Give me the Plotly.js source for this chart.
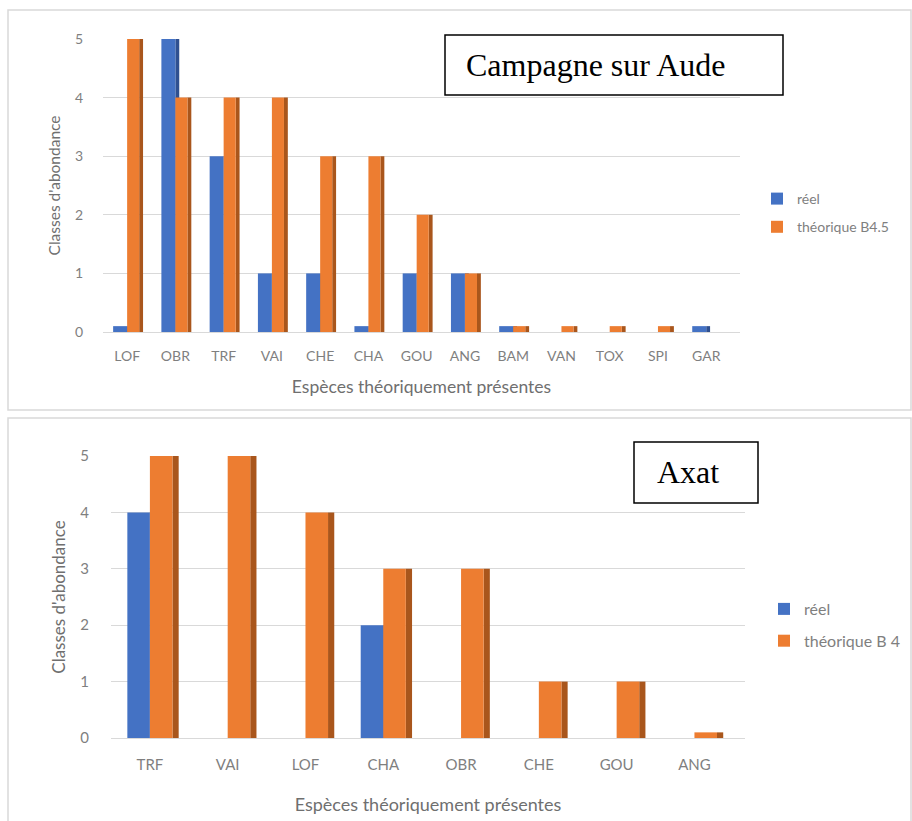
<!DOCTYPE html>
<html>
<head>
<meta charset="utf-8">
<script src="https://cdn.plot.ly/plotly-3.0.1.min.js"></script>
<style>
html,body{margin:0;padding:0;background:#fff;}
#chart{width:912px;height:821px;}
</style>
</head>
<body>
<div id="chart"></div>
<script>
// ---- Data ----
const categoriesTop = ["LOF","OBR","TRF","VAI","CHE","CHA","GOU","ANG","BAM","VAN","TOX","SPI","GAR"];
const reelTop       = [0.1, 5, 3, 1, 1, 0.1, 1, 1, 0.1, 0, 0, 0, 0.1];
const theoTop       = [5, 4, 4, 4, 3, 3, 2, 1, 0.1, 0.1, 0.1, 0.1, 0];
const nameReelTop = "réel";
const nameTheoTop = "théorique B4.5";
const titleTop = "Campagne sur Aude";

const categoriesBottom = ["TRF","VAI","LOF","CHA","OBR","CHE","GOU","ANG"];
const reelBottom       = [4, 0, 0, 2, 0, 0, 0, 0];
const theoBottom       = [5, 5, 4, 3, 3, 1, 1, 0.1];
const nameReelBottom = "réel";
const nameTheoBottom = "théorique B 4";
const titleBottom = "Axat";

const yTickVals = [0,1,2,3,4,5];
const yTitle = "Classes d'abondance";
const xTitle = "Espèces théoriquement présentes";

// ---- Styling ----
const W = 912, H = 821;
const px = v => v / W;
const py = v => 1 - v / H;
const BLUE = "#4472c4", BLUE_D = "#2f5090";
const ORANGE = "#ed7d31", ORANGE_D = "#a9561c";
const FONT = "Lato, 'Open Sans', sans-serif";
const TICKC = "#7f7f7f";

function barSet(cats, reel, theo, nR, nT, xa, ya, lg, geo) {
  return [
    {type:"bar", x:cats, y:reel, xaxis:xa, yaxis:ya, offset:0, width:geo.side,
     marker:{color:BLUE_D}, showlegend:false, hoverinfo:"skip", legend:lg, legendgroup:lg+"a"},
    {type:"bar", x:cats, y:reel, xaxis:xa, yaxis:ya, offset:-geo.blue, width:geo.blue,
     marker:{color:BLUE}, name:nR, legend:lg, legendgroup:lg+"a"},
    {type:"bar", x:cats, y:theo, xaxis:xa, yaxis:ya, offset:geo.orange, width:geo.side,
     marker:{color:ORANGE_D}, showlegend:false, hoverinfo:"skip", legend:lg, legendgroup:lg+"b"},
    {type:"bar", x:cats, y:theo, xaxis:xa, yaxis:ya, offset:0, width:geo.orange,
     marker:{color:ORANGE}, name:nT, legend:lg, legendgroup:lg+"b"}
  ];
}

const data = [].concat(
  barSet(categoriesTop, reelTop, theoTop, nameReelTop, nameTheoTop, "x", "y", "legend",
         {blue:0.29, orange:0.25, side:0.08}),
  barSet(categoriesBottom, reelBottom, theoBottom, nameReelBottom, nameTheoBottom, "x2", "y2", "legend2",
         {blue:0.29, orange:0.29, side:0.08})
);

function xAxis(domain, range, anchor, standoff, ticklen, fs, tfs) {
  return {domain:domain, anchor:anchor, type:"category", range:range, showgrid:false,
    showline:false, zeroline:false, ticks:"outside", ticklen:ticklen, tickcolor:"rgba(0,0,0,0)",
    tickfont:{family:FONT, size:fs, color:TICKC}, automargin:false, fixedrange:true,
    title:{text:xTitle, standoff:standoff, font:{family:FONT, size:tfs, color:"#6f6f6f"}}};
}
function yAxis(domain, anchor, standoff, ticklen, fs, tfs) {
  return {domain:domain, anchor:anchor, range:[0,5], tickvals:yTickVals,
    showgrid:true, gridcolor:"#d9d9d9", gridwidth:1, zeroline:true, zerolinecolor:"#d9d9d9",
    showline:false, ticks:"outside", ticklen:ticklen, tickcolor:"rgba(0,0,0,0)",
    tickfont:{family:FONT, size:fs, color:TICKC}, automargin:false, fixedrange:true,
    title:{text:yTitle, standoff:standoff, font:{family:FONT, size:tfs, color:"#6f6f6f"}}};
}

const layout = {
  width:W, height:H, margin:{l:0,r:0,t:0,b:0}, paper_bgcolor:"#fff", plot_bgcolor:"#fff",
  barmode:"overlay", showlegend:true,
  xaxis: xAxis([px(103), px(740)], [-0.5, 12.7], "y", 17, 11, 14, 17.5),
  yaxis: yAxis([py(332), py(39)], "x", 10, 16, 14, 15.5),
  xaxis2: xAxis([px(111), px(745)], [-0.5, 7.65], "y2", 26, 13, 15, 18),
  yaxis2: yAxis([py(738), py(456)], "x2", 10, 18, 15, 17),
  legend: {x:px(757), y:py(183), xanchor:"left", yanchor:"top", bgcolor:"rgba(0,0,0,0)",
    font:{family:FONT, size:14, color:TICKC}, tracegroupgap:7, traceorder:"grouped"},
  legend2: {x:px(764), y:py(592), xanchor:"left", yanchor:"top", bgcolor:"rgba(0,0,0,0)",
    font:{family:FONT, size:16, color:TICKC}, tracegroupgap:8, traceorder:"grouped"},
  shapes: [
    {type:"rect", xref:"paper", yref:"paper", x0:px(8), x1:px(911), y0:py(410), y1:py(10),
     line:{color:"#d9d9d9", width:1.5}, layer:"below"},
    {type:"rect", xref:"paper", yref:"paper", x0:px(8), x1:px(911), y0:py(830), y1:py(418),
     line:{color:"#d9d9d9", width:1.5}, layer:"below"},
    {type:"rect", xref:"paper", yref:"paper", x0:px(445), x1:px(783), y0:py(95), y1:py(35),
     line:{color:"#000", width:1.5}, fillcolor:"#fff", layer:"above"},
    {type:"rect", xref:"paper", yref:"paper", x0:px(634), x1:px(758), y0:py(503), y1:py(442),
     line:{color:"#000", width:1.5}, fillcolor:"#fff", layer:"above"}
  ],
  annotations: [
    {xref:"paper", yref:"paper", x:px(464), y:py(65), xanchor:"left", yanchor:"middle",
     text:titleTop, showarrow:false, font:{family:"'Liberation Serif', 'Times New Roman', serif", size:32, color:"#000"}},
    {xref:"paper", yref:"paper", x:px(655), y:py(472), xanchor:"left", yanchor:"middle",
     text:titleBottom, showarrow:false, font:{family:"'Liberation Serif', 'Times New Roman', serif", size:32, color:"#000"}}
  ]
};

Plotly.newPlot("chart", data, layout, {staticPlot:true, displayModeBar:false});
</script>
</body>
</html>
